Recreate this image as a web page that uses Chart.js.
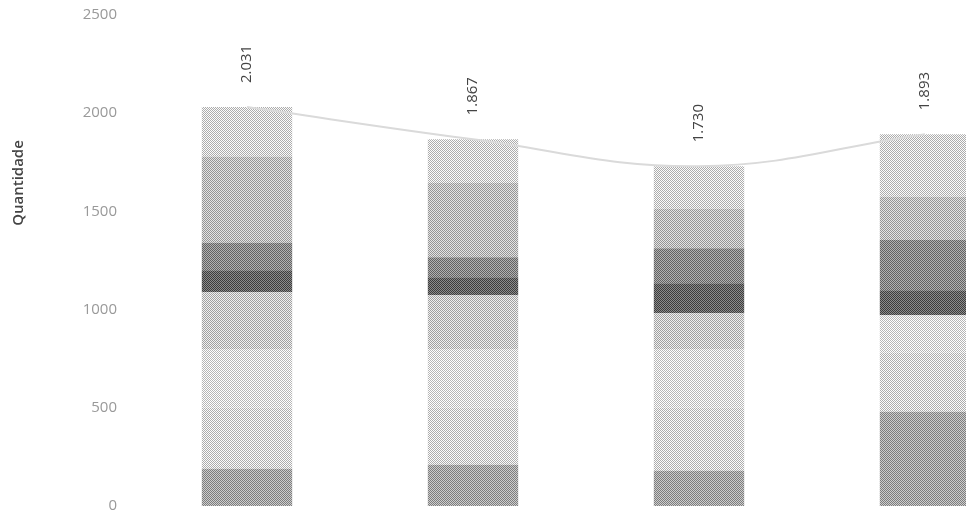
<!DOCTYPE html>
<html>
<head>
<meta charset="utf-8">
<script src="https://cdn.jsdelivr.net/npm/chart.js@4"></script>
<style>
  body { margin: 0; overflow: hidden; background: #fff; }
  #wrap { width: 1045px; height: 515px; }
</style>
</head>
<body>
<div id="wrap"><canvas id="chart" width="1045" height="515"></canvas></div>
<script>
// periods (labels hidden in the original)
const periods = ['P1', 'P2', 'P3', 'P4'];

// stacked segments, bottom to top
const seg1 = [190, 210, 180, 480];
const seg2 = [310, 290, 320, 300];
const seg3 = [300, 300, 300, 191];
const seg4 = [288, 273, 181, 0];
const seg5 = [112, 92, 153, 128];
const seg6 = [140, 102, 179, 255];
const seg7 = [440, 378, 200, 220];
const seg8 = [251, 222, 217, 319];

const totals = [2031, 1867, 1730, 1893];

const yTicks = [0, 500, 1000, 1500, 2000, 2500];

const segGrays = [165, 212, 222, 200, 100, 138, 188, 212];
const segments = [seg1, seg2, seg3, seg4, seg5, seg6, seg7, seg8];

function fmt(n) {
    return String(n).replace(/\B(?=(\d{3})+(?!\d))/g, '.');
}

// checkerboard fill to mimic the dithered look of the original
function dither(g) {
    const c = document.createElement('canvas');
    c.width = 2; c.height = 2;
    const x = c.getContext('2d');
    const hi = Math.min(255, g + 40), lo = Math.max(0, g - 40);
    x.fillStyle = `rgb(${hi},${hi},${hi})`;
    x.fillRect(0, 0, 2, 2);
    x.fillStyle = `rgb(${lo},${lo},${lo})`;
    x.fillRect(0, 0, 1, 1);
    x.fillRect(1, 1, 1, 1);
    return x.createPattern(c, 'repeat');
}

const datasets = segments.map((s, i) => ({
    type: 'bar',
    label: 'Faixa ' + (i + 1),
    data: s,
    backgroundColor: dither(segGrays[i]),
    stack: 'bars',
    order: 2,
    barPercentage: 0.4,
    categoryPercentage: 1
}));

datasets.push({
    type: 'line',
    label: 'Total',
    data: totals,
    borderColor: '#dadada',
    borderWidth: 2,
    tension: 0.4,
    pointRadius: 0,
    stack: 'total',
    order: 0
});

const totalLabels = {
    id: 'totalLabels',
    afterDatasetsDraw(chart) {
        const ctx = chart.ctx;
        const meta = chart.getDatasetMeta(chart.data.datasets.length - 1);
        ctx.save();
        ctx.fillStyle = '#444';
        ctx.font = '15px "Open Sans"';
        ctx.textAlign = 'left';
        ctx.textBaseline = 'middle';
        meta.data.forEach((pt, i) => {
            ctx.save();
            ctx.translate(pt.x, pt.y - 24);
            ctx.rotate(-Math.PI / 2);
            ctx.fillText(fmt(totals[i]), 0, 0);
            ctx.restore();
        });
        // axis title
        ctx.translate(19, 183);
        ctx.rotate(-Math.PI / 2);
        ctx.textAlign = 'center';
        ctx.fillStyle = '#444';
        ctx.font = '600 15px "Open Sans"';
        ctx.fillText('Quantidade', 0, 0);
        ctx.restore();
    }
};

new Chart(document.getElementById('chart'), {
    data: { labels: periods, datasets: datasets },
    options: {
        responsive: false,
        animation: false,
        layout: { padding: { top: 15, bottom: 9, right: 7, left: 0 } },
        plugins: { legend: { display: false }, tooltip: { enabled: false } },
        scales: {
            x: { display: false, stacked: true },
            y: {
                stacked: true,
                min: 0,
                max: 2500,
                afterBuildTicks: scale => { scale.ticks = yTicks.map(v => ({ value: v })); },
                afterFit: scale => {
                    scale.width = 134;
                    scale.paddingTop = 0;
                    scale.paddingBottom = 0;
                },
                grid: { display: false },
                border: { display: false },
                ticks: {
                    color: '#999',
                    padding: 9,
                    font: { family: 'Open Sans', size: 15 },
                    callback: v => String(v)
                }
            }
        }
    },
    plugins: [totalLabels]
});
</script>
</body>
</html>
